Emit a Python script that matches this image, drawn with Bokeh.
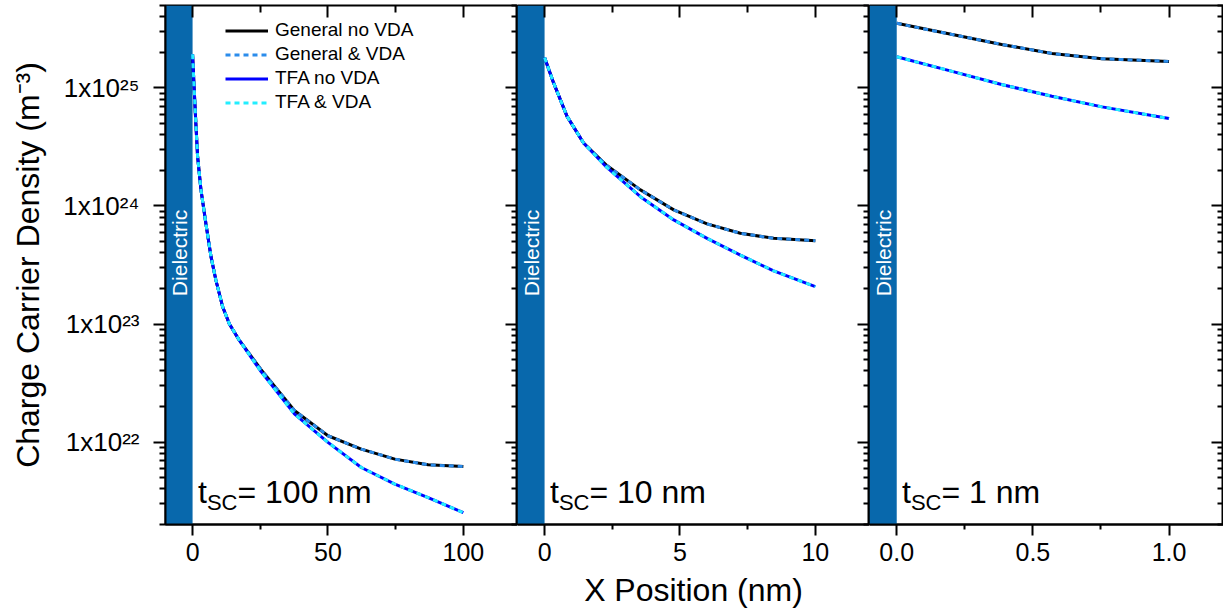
import math
from bokeh.plotting import figure
from bokeh.models import (Range1d, FixedTicker, LinearAxis, LogAxis, BoxAnnotation,
                          Label, Legend, LegendItem)
from bokeh.layouts import row
from bokeh.embed import file_html
from bokeh.resources import INLINE

# ---------------- data ----------------
series_names = ["General no VDA", "General & VDA", "TFA no VDA", "TFA & VDA"]
panel_labels = ["100 nm", "10 nm", "1 nm"]

x_100nm = [0, 0.6, 1.2, 1.85, 3.1, 4.9, 6.8, 8.6, 11.1, 13.6, 17.3, 25.3, 37.6, 50, 62.3, 74.7, 87, 100]
general_100nm = [1.93e25, 9.7e24, 5.06e24, 2.63e24, 1.37e24, 7.14e23, 3.72e23, 2.36e23, 1.40e23, 1.0e23,
                 7.26e22, 4.1e22, 1.85e22, 1.13e22, 8.71e21, 7.16e21, 6.41e21, 6.19e21]
tfa_100nm = [1.93e25, 9.7e24, 5.06e24, 2.63e24, 1.37e24, 7.14e23, 3.72e23, 2.36e23, 1.40e23, 1.0e23,
             7.26e22, 3.95e22, 1.73e22, 9.93e21, 6.08e21, 4.40e21, 3.38e21, 2.52e21]

x_10nm = [0, 0.33, 0.83, 1.44, 2.3, 3.54, 4.77, 6.0, 7.23, 8.46, 10]
general_10nm = [1.81e25, 1.11e25, 5.75e24, 3.42e24, 2.2e24, 1.37e24, 9.27e23, 7.05e23, 5.87e23, 5.32e23, 5.08e23]
tfa_10nm = [1.81e25, 1.11e25, 5.75e24, 3.42e24, 2.12e24, 1.20e24, 7.62e23, 5.32e23, 3.84e23, 2.82e23, 2.07e23]

x_1nm = [0, 0.2, 0.385, 0.57, 0.754, 1.0]
general_1nm = [3.53e25, 2.85e25, 2.34e25, 1.96e25, 1.77e25, 1.68e25]
tfa_1nm = [1.84e25, 1.39e25, 1.07e25, 8.51e24, 6.92e24, 5.51e24]

x_ranges = [(-10, 120), (-1, 12), (-0.1, 1.2)]
x_major_ticks = [[0, 50, 100], [0, 5, 10], [0.0, 0.5, 1.0]]
x_minor_ticks = [[25, 75], [2.5, 7.5], [0.25, 0.75]]
x_tick_labels = [["0", "50", "100"], ["0", "5", "10"], ["0.0", "0.5", "1.0"]]
y_range = (2e21, 5e25)
y_major_ticks = [1e22, 1e23, 1e24, 1e25]
y_tick_labels = ["1x10²²", "1x10²³", "1x10²⁴", "1x10²⁵"]
x_title = "X Position (nm)"
y_title = "Charge Carrier Density (m⁻³)"

# ---------------- styling ----------------
FONT = "Liberation Sans"
DIEL = "#0868AC"
colors = ["black", "#2B8CEB", "#0000FF", "#22EEFF"]
dashes = ["solid", "5 4", "solid", "5 4"]
H = 614
widths = [517, 352, 354]
y_minor = [float(m) * 10.0 ** e for e in range(21, 26) for m in range(2, 10)
           if y_range[0] <= float(m) * 10.0 ** e <= y_range[1]]

xs = [x_100nm, x_10nm, x_1nm]
gens = [general_100nm, general_10nm, general_1nm]
tfas = [tfa_100nm, tfa_10nm, tfa_1nm]


def hide_labels(ax, ticks):
    ax.major_label_overrides = {t: "" for t in ticks}
    ax.major_label_text_font_size = "1px"
    ax.major_label_standoff = 0


figs = []
for i in range(3):
    p = figure(width=widths[i], height=H,
               x_range=Range1d(*x_ranges[i]), y_range=Range1d(*y_range),
               y_axis_type="log", x_axis_location=None, y_axis_location=None,
               output_backend="svg", toolbar_location=None,
               min_border_left=165 if i == 0 else 0, min_border_right=0,
               min_border_top=5, min_border_bottom=90)
    p.grid.visible = False
    p.outline_line_color = "black"
    p.outline_line_width = 2
    p.background_fill_color = "white"
    p.border_fill_color = "white"

    xt = FixedTicker(ticks=x_major_ticks[i], minor_ticks=x_minor_ticks[i])
    yt = FixedTicker(ticks=y_major_ticks, minor_ticks=y_minor)

    # bottom axis
    bx = LinearAxis(ticker=xt)
    bx.major_label_overrides = {t: s for t, s in zip(x_major_ticks[i], x_tick_labels[i])}
    bx.axis_line_width = 2
    bx.major_tick_line_width = 2
    bx.minor_tick_line_width = 2
    bx.major_tick_out = 11
    bx.major_tick_in = 0
    bx.minor_tick_out = 5
    bx.minor_tick_in = 0
    bx.major_label_text_font = FONT
    bx.major_label_text_font_size = "25px"
    bx.major_label_text_color = "black"
    bx.major_label_standoff = 7
    if i == 1:
        bx.axis_label = x_title
        bx.axis_label_text_font = FONT
        bx.axis_label_text_font_size = "32px"
        bx.axis_label_text_font_style = "normal"
        bx.axis_label_text_color = "black"
        bx.axis_label_standoff = 8
    p.add_layout(bx, "below")

    # top axis (inward ticks, no labels)
    tx = LinearAxis(ticker=xt)
    tx.axis_line_color = None
    tx.major_tick_line_width = 2
    tx.minor_tick_line_width = 2
    tx.major_tick_in = 12
    tx.major_tick_out = 0
    tx.minor_tick_in = 7
    tx.minor_tick_out = 0
    hide_labels(tx, x_major_ticks[i])
    p.add_layout(tx, "above")

    # left axis only on first panel (outward ticks, labelled)
    if i == 0:
        ly = LogAxis(ticker=yt)
        ly.axis_line_width = 2
        ly.major_tick_line_width = 2
        ly.minor_tick_line_width = 2
        ly.major_tick_out = 12
        ly.major_tick_in = 0
        ly.minor_tick_out = 6
        ly.minor_tick_in = 0
        ly.major_label_overrides = {t: s for t, s in zip(y_major_ticks, y_tick_labels)}
        ly.major_label_text_font = FONT
        ly.major_label_text_font_size = "26px"
        ly.major_label_text_color = "black"
        ly.major_label_standoff = 14
        ly.axis_label = y_title
        ly.axis_label_text_font = FONT
        ly.axis_label_text_font_size = "32px"
        ly.axis_label_text_font_style = "normal"
        ly.axis_label_text_color = "black"
        ly.axis_label_standoff = 14
        p.add_layout(ly, "left")

    # right axis (inward ticks) - stands in for next panel's outward ticks
    ry = LogAxis(ticker=yt)
    ry.axis_line_color = None
    ry.major_tick_line_width = 2
    ry.minor_tick_line_width = 2
    ry.major_tick_in = 12
    ry.major_tick_out = 0
    ry.minor_tick_in = 6
    ry.minor_tick_out = 0
    hide_labels(ry, y_major_ticks)
    p.add_layout(ry, "right")

    # dielectric
    p.add_layout(BoxAnnotation(right=0, fill_color=DIEL, fill_alpha=1.0,
                               line_color=None, level="underlay"))
    p.add_layout(Label(x=x_ranges[i][0] / 2, y=4e23, text="Dielectric", angle=math.pi / 2,
                       text_align="center", text_baseline="middle", text_color="white",
                       text_font=FONT, text_font_size="21px"))

    # curves
    r_gen = p.line(xs[i], gens[i], line_color=colors[0], line_width=3, line_dash=dashes[0])
    r_genv = p.line(xs[i], gens[i], line_color=colors[1], line_width=3, line_dash=dashes[1])
    r_tfa = p.line(xs[i], tfas[i], line_color=colors[2], line_width=3, line_dash=dashes[2])
    r_tfav = p.line(xs[i], tfas[i], line_color=colors[3], line_width=3, line_dash=dashes[3])

    # t_SC label
    fs_main, fs_sub = 32, 22
    x0 = 32.5
    p.add_layout(Label(x=x0, y=33, x_units="screen", y_units="screen", text="t",
                       text_color="black", text_font=FONT, text_font_size=f"{fs_main}px",
                       text_baseline="alphabetic"))
    x1 = x0 + 0.278 * fs_main
    p.add_layout(Label(x=x1, y=22, x_units="screen", y_units="screen", text="SC",
                       text_color="black", text_font=FONT, text_font_size=f"{fs_sub}px",
                       text_baseline="alphabetic"))
    x2 = x1 + 1.389 * fs_sub
    p.add_layout(Label(x=x2, y=33, x_units="screen", y_units="screen", text="= " + panel_labels[i],
                       text_color="black", text_font=FONT, text_font_size=f"{fs_main}px",
                       text_baseline="alphabetic"))

    if i == 0:
        legend = Legend(items=[LegendItem(label=series_names[0], renderers=[r_gen]),
                               LegendItem(label=series_names[1], renderers=[r_genv]),
                               LegendItem(label=series_names[2], renderers=[r_tfa]),
                               LegendItem(label=series_names[3], renderers=[r_tfav])],
                        location=(60, 411))
        legend.label_text_font = FONT
        legend.label_text_font_size = "19px"
        legend.label_text_color = "black"
        legend.glyph_width = 43
        legend.glyph_height = 21
        legend.label_height = 21
        legend.spacing = 2
        legend.padding = 0
        legend.margin = 0
        legend.label_standoff = 7
        legend.border_line_color = None
        legend.background_fill_alpha = 0
        p.add_layout(legend)
    figs.append(p)

layout = row(*figs, spacing=0)
open("out.html", "w").write(file_html(layout, INLINE))
